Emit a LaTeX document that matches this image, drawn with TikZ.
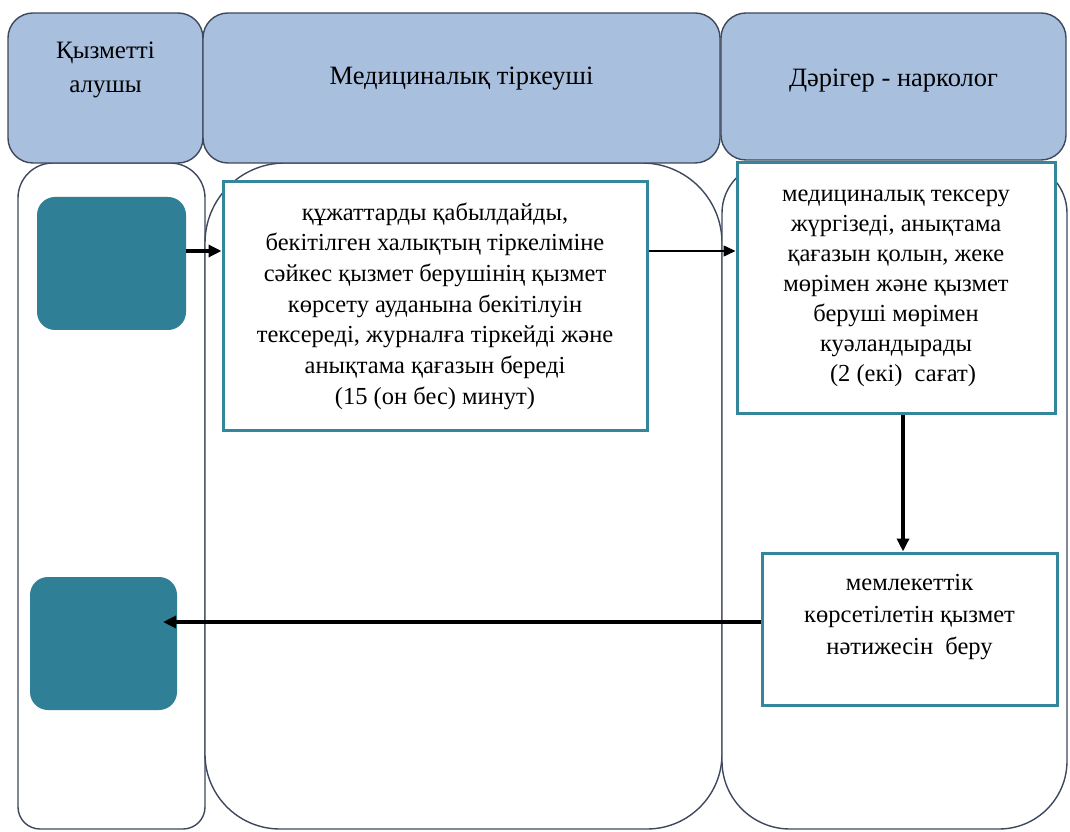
\documentclass[tikz,border=0pt]{standalone}
\usepackage{fontspec}
\setmainfont{Liberation Serif}
\usetikzlibrary{arrows.meta,calc}
\definecolor{hdrfill}{RGB}{168,191,222}
\definecolor{laneline}{RGB}{62,72,92}
\definecolor{tealfill}{RGB}{47,127,151}
\definecolor{tealline}{RGB}{52,134,156}

\begin{document}
\begin{tikzpicture}[x=1pt,y=1pt,
  lane/.style={draw=laneline,line width=1.4pt,fill=white},
  hdr/.style={draw=laneline,line width=1.4pt,fill=hdrfill,rounded corners=25pt,inner sep=0pt},
  actor/.style={fill=tealfill,rounded corners=18pt,inner sep=0pt},
  stepbox/.style={draw=tealline,line width=3pt,fill=white,inner sep=0pt,align=center},
  txt/.style={align=center,inner sep=0pt},
  flow/.style={line width=3.5pt,-{Triangle[length=13pt,width=12pt]}},
  thinflow/.style={line width=1.5pt,-{Triangle[length=12pt,width=11pt]}}]
\useasboundingbox (0,0) rectangle (1070,831);

% lane bodies
\draw[lane] (18,633) arc[start angle=180,end angle=90,radius=35] -- (170,668)
  arc[start angle=90,end angle=0,radius=35] -- (205,24)
  arc[start angle=0,end angle=-90,radius=22] -- (40,2)
  arc[start angle=270,end angle=180,radius=22] -- cycle;
\draw[lane] (205,588) arc[start angle=180,end angle=90,radius=80] -- (642,668)
  arc[start angle=90,end angle=0,radius=80] -- (722,77)
  arc[start angle=0,end angle=-90,radius=75] -- (280,2)
  arc[start angle=270,end angle=180,radius=75] -- cycle;
\draw[lane] (722,618) arc[start angle=180,end angle=90,radius=50] -- (1017,668)
  arc[start angle=90,end angle=0,radius=50] -- (1067,70)
  arc[start angle=0,end angle=-90,radius=68] -- (790,2)
  arc[start angle=270,end angle=180,radius=68] -- cycle;

% lane headers
\node[hdr,minimum width=195pt,minimum height=150pt,
  label={[txt,yshift=18pt,font=\fontsize{25}{34}\selectfont]center:Қызметті\\алушы}] (h1) at (105.5,743) {};
\node[hdr,minimum width=517pt,minimum height=150pt,
  label={[txt,yshift=9pt,font=\fontsize{26.5}{32}\selectfont]center:Медициналық тіркеуші}] (h2) at (461.5,743) {};
\node[hdr,minimum width=345pt,minimum height=147pt,
  label={[txt,yshift=6pt,font=\fontsize{26.5}{32}\selectfont]center:Дәрігер - нарколог}] (h3) at (893.5,744.5) {};

% participant markers
\node[actor,minimum width=149pt,minimum height=133pt] (sq1) at (111.5,567.5) {};
\node[actor,minimum width=147pt,minimum height=133pt] (sq2) at (103.5,187.5) {};

% process steps
\node[stepbox,minimum width=424pt,minimum height=248pt,
  font=\fontsize{24.5}{30.7}\selectfont] (box1) at (435,525)
  {құжаттарды қабылдайды,\\ бекітілген халықтың тіркеліміне\\ сәйкес қызмет берушінің қызмет\\
   көрсету ауданына бекітілуін\\ тексереді, журналға тіркейді және\\ анықтама қағазын береді\\
   (15 (он бес) минут)};
\node[stepbox,minimum width=318pt,minimum height=250pt,
  font=\fontsize{24.5}{30}\selectfont] (box2) at (896,543)
  {медициналық тексеру\\ жүргізеді, анықтама\\ қағазын қолын, жеке\\ мөрімен және қызмет\\
   беруші мөрімен\\ куәландырады\\ \hspace*{14pt}(2 (екі) \ сағат)};
\node[stepbox,minimum width=295pt,minimum height=152pt,
  label={[txt,yshift=12pt,font=\fontsize{24.5}{32}\selectfont]center:мемлекеттік\\ көрсетілетін қызмет\\ нәтижесін \ беру}]
  (box3) at (909.5,202) {};

% connectors
\coordinate (row1) at (0,580);
\coordinate (col3) at (903,0);
\coordinate (back) at (163,209);
\draw[flow] (sq1.east |- row1) -- (box1.west |- row1);
\draw[thinflow] (box1.east |- row1) -- (box2.west |- row1);
\draw[flow] (box2.south -| col3) -- (box3.north -| col3);
\draw[flow] (box3.west |- back) -- (back);
\end{tikzpicture}
\end{document}
